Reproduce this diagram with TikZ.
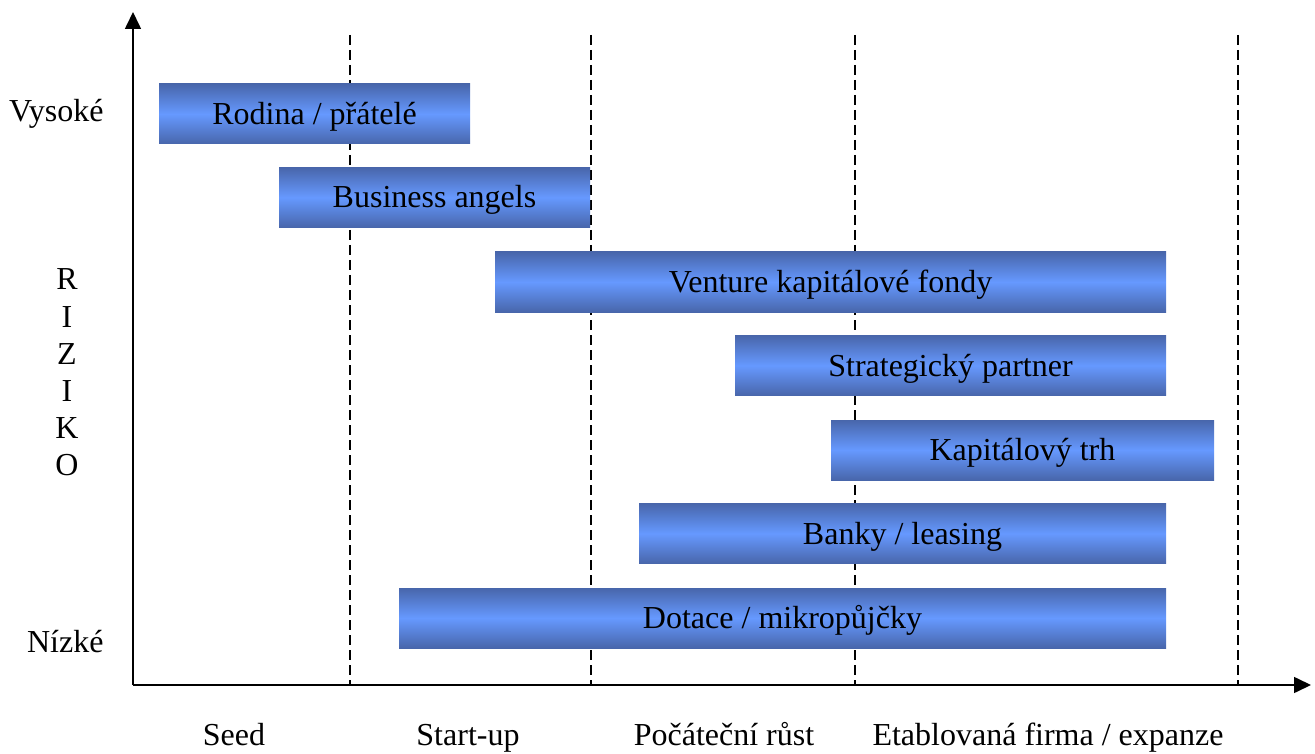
\documentclass[tikz,border=0pt]{standalone}
\usepackage{fontspec}
\setmainfont{Liberation Serif}
\usetikzlibrary{arrows.meta}
\definecolor{bardark}{HTML}{4866AB}
\definecolor{barlight}{HTML}{6699FF}
\begin{document}
\begin{tikzpicture}[x=1pt,y=-1pt,
  font=\fontsize{32}{38}\selectfont,
  bar/.style={shade, top color=bardark, bottom color=bardark, middle color=barlight,
    inner sep=0pt, text height=21pt, text depth=0pt, minimum height=60pt},
  axis/.style={line width=1.6pt, -{Triangle[length=17pt,width=16pt]}},
  divider/.style={line width=1.7pt, dash pattern=on 10pt off 5pt},
  stage/.style={anchor=base},
  level/.style={anchor=base east},
  letter/.style={anchor=base}]
\useasboundingbox (0,0) rectangle (1315,754);
% coordinates
\coordinate (origin) at (133,685);
\coordinate (ytip) at (133,12);
\coordinate (xtip) at (1311,685);
\foreach \i/\x in {1/350,2/591,3/855,4/1238}{
  \coordinate (dtop\i) at (\x,35);
  \coordinate (dbot\i) at (\x,685);
  \draw[divider] (dtop\i) -- (dbot\i);
}
% bars
\node[bar, minimum width=311pt] (rodina) at (314.5,114) {Rodina / přátelé};
\node[bar, minimum width=311pt] (angels) at (434.5,197.5) {Business angels};
\node[bar, minimum width=671pt] (venture) at (830.5,282) {Venture kapitálové fondy};
\node[bar, minimum width=431pt] (partner) at (950.5,365.5) {Strategický partner};
\node[bar, minimum width=383pt] (trh) at (1022.5,450) {Kapitálový trh};
\node[bar, minimum width=527pt] (banky) at (902.5,533.5) {Banky / leasing};
\node[bar, minimum width=767pt] (dotace) at (782.5,618) {Dotace / mikropůjčky};
% axes
\draw[axis] (origin) -- (ytip);
\draw[axis] (origin) -- (xtip);
% risk labels
\node[level] (vysoke) at (107,122) {Vysoké};
\node[level] (nizke) at (107,652) {Nízké};
\foreach \i/\l/\y in {1/R/290,2/I/327,3/Z/364,4/I/401,5/K/438,6/O/475}{
  \node[letter] (riziko\i) at (67,\y) {\l};
}
% stage labels
\node[stage] (seed) at (234,745) {Seed};
\node[stage] (startup) at (468,745) {Start-up};
\node[stage] (rust) at (724,745) {Počáteční růst};
\node[stage] (etab) at (1048,745) {Etablovaná firma / expanze};
\end{tikzpicture}
\end{document}
